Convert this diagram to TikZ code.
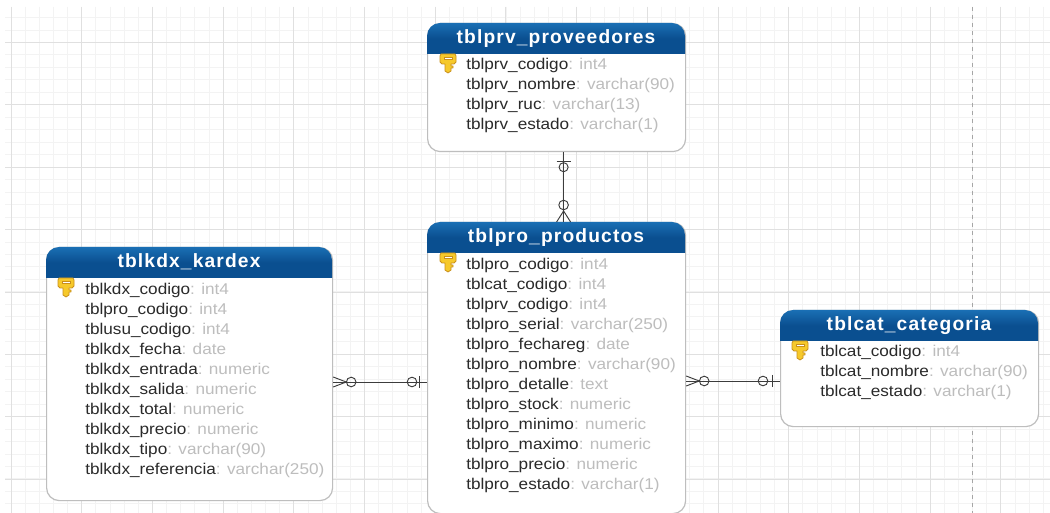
\documentclass[tikz,border=0pt]{standalone}
\usepackage{fontspec}
\setmainfont{Liberation Sans}
\newfontfamily\hdrfont[LetterSpace=6]{Liberation Sans}
\newfontfamily\rowfont[FakeStretch=1.1]{Liberation Sans}
\usetikzlibrary{calc}
\definecolor{hdrtop}{HTML}{1A6FB4}
\definecolor{hdrbot}{HTML}{0A4F90}
\definecolor{edgegray}{HTML}{BEBEBE}
\definecolor{typegray}{HTML}{BDBDBD}
\definecolor{namecol}{HTML}{2A2A2A}
\definecolor{keyfill}{HTML}{F6C92B}
\definecolor{keyedge}{HTML}{C98F1C}
\definecolor{gridmin}{HTML}{F3F3F3}
\definecolor{gridmaj}{HTML}{E0E0E0}
\definecolor{linecol}{HTML}{3C3C3C}
\tikzset{
  x=0.75pt,y=-0.75pt,
  tablebody/.style={draw=edgegray,line width=0.9pt,fill=white,rounded corners=9.5pt,inner sep=0pt,anchor=north west},
  tabletitle/.style={text=white,font=\hdrfont\bfseries\fontsize{14.4}{16}\selectfont,inner sep=0pt,anchor=base},
  rowtext/.style={anchor=base west,inner sep=0pt,font=\rowfont\fontsize{11.7}{14}\selectfont,text=namecol},
  conn/.style={draw=linecol,line width=0.7pt},
  mincirc/.style={draw=linecol,line width=0.7pt},
}
% #1 name, #2 x, #3 y, #4 width px, #5 height px, #6 title
\newcommand{\tablebox}[6]{%
  \node[tablebody,minimum width=#4*0.75pt,minimum height=#5*0.75pt] (#1) at (#2,#3) {};
  \shade[top color=hdrtop,bottom color=hdrbot,middle color=hdrbot]
    (#2,#3+31) -- (#2,#3+13) arc[start angle=180,end angle=90,radius=9.75pt] -- (#2+#4-13,#3)
    arc[start angle=90,end angle=0,radius=9.75pt] -- (#2+#4,#3+31) -- cycle;
  \node[tabletitle] (#1title) at (#2+#4/2,#3+21) {#6};
}
\newcommand{\rowitem}[5]{%
  \node[rowtext] (#1) at (#2,#3+1.5) {#4\textcolor{typegray}{: #5}};
}
\newcommand{\keyicon}[2]{%
  \begin{scope}[shift={(#1,#2)}]
    \fill[keyfill,draw=keyedge,line width=0.6pt,line join=round]
      (-7,-9) -- (7,-9) -- (8,-7) -- (8,-1) -- (6,1) -- (3,1) -- (3,3) -- (5,3) -- (5,5) -- (3,5) -- (3,8) -- (0,10) -- (-3,8) -- (-3,1) -- (-6,1) -- (-8,-1) -- (-8,-7) -- cycle;
    \fill[white,draw=keyedge,line width=0.4pt] (-4,-6) rectangle (4,-4);
  \end{scope}
}
\begin{document}
\begin{tikzpicture}
\useasboundingbox (0,0) rectangle (1050,513);
\fill[white] (0,0) rectangle (1050,513);
% grid
\begin{scope}
  \clip (5,7) rectangle (1050,513);
  \foreach \i in {0,...,75} { \draw[gridmin,line width=0.6pt] ({11+14.14*\i},7) -- ({11+14.14*\i},513); }
  \foreach \i in {0,...,41} { \draw[gridmin,line width=0.6pt] (5,{5+12.47*\i}) -- (1050,{5+12.47*\i}); }
  \foreach \i in {0,...,14} { \draw[gridmaj,line width=0.7pt] ({11+70.7*\i},7) -- ({11+70.7*\i},513); }
  \foreach \i in {0,...,8} { \draw[gridmaj,line width=0.7pt] (5,{42.6+62.35*\i}) -- (1050,{42.6+62.35*\i}); }
  \draw[gray!70,line width=0.6pt,dashed] (972,7) -- (972,513);
\end{scope}
% tables
\tablebox{prv}{427}{23}{258}{128}{tblprv\_proveedores}
\tablebox{pro}{427}{222}{258}{291}{tblpro\_productos}
\tablebox{kdx}{46}{247}{286}{253}{tblkdx\_kardex}
\tablebox{cat}{780}{310}{258}{116}{tblcat\_categoria}
% keys
\keyicon{448}{63}
\keyicon{448}{262}
\keyicon{66}{287}
\keyicon{800}{350}
% rows
\rowitem{prva}{466}{68}{tblprv\_codigo}{int4}
\rowitem{prvb}{466}{88}{tblprv\_nombre}{varchar(90)}
\rowitem{prvc}{466}{108}{tblprv\_ruc}{varchar(13)}
\rowitem{prvd}{466}{128}{tblprv\_estado}{varchar(1)}
\rowitem{proa}{466}{268}{tblpro\_codigo}{int4}
\rowitem{prob}{466}{288}{tblcat\_codigo}{int4}
\rowitem{proc}{466}{308}{tblprv\_codigo}{int4}
\rowitem{prod}{466}{328}{tblpro\_serial}{varchar(250)}
\rowitem{proe}{466}{348}{tblpro\_fechareg}{date}
\rowitem{prof}{466}{368}{tblpro\_nombre}{varchar(90)}
\rowitem{prog}{466}{388}{tblpro\_detalle}{text}
\rowitem{proh}{466}{408}{tblpro\_stock}{numeric}
\rowitem{proi}{466}{428}{tblpro\_minimo}{numeric}
\rowitem{proj}{466}{448}{tblpro\_maximo}{numeric}
\rowitem{prok}{466}{468}{tblpro\_precio}{numeric}
\rowitem{prol}{466}{488}{tblpro\_estado}{varchar(1)}
\rowitem{kdxa}{85}{293}{tblkdx\_codigo}{int4}
\rowitem{kdxb}{85}{313}{tblpro\_codigo}{int4}
\rowitem{kdxc}{85}{333}{tblusu\_codigo}{int4}
\rowitem{kdxd}{85}{353}{tblkdx\_fecha}{date}
\rowitem{kdxe}{85}{373}{tblkdx\_entrada}{numeric}
\rowitem{kdxf}{85}{393}{tblkdx\_salida}{numeric}
\rowitem{kdxg}{85}{413}{tblkdx\_total}{numeric}
\rowitem{kdxh}{85}{433}{tblkdx\_precio}{numeric}
\rowitem{kdxi}{85}{453}{tblkdx\_tipo}{varchar(90)}
\rowitem{kdxj}{85}{473}{tblkdx\_referencia}{varchar(250)}
\rowitem{cata}{820}{355}{tblcat\_codigo}{int4}
\rowitem{catb}{820}{375}{tblcat\_nombre}{varchar(90)}
\rowitem{catc}{820}{395}{tblcat\_estado}{varchar(1)}
% connectors
\coordinate (p1) at ($(prv.south)+(7,0)$);
\coordinate (p2) at ($(pro.north)+(7,0)$);
\draw[conn] (p1) -- (p2);
\draw[conn] ($(p1)+(-7,9)$) -- ($(p1)+(7,9)$);
\draw[mincirc] ($(p1)+(0,15)$) circle[radius=3.4pt];
\draw[mincirc] ($(p2)+(0,-17)$) circle[radius=3.6pt];
\draw[conn] ($(p2)+(-7,0)$) -- ($(p2)+(0,-11)$) -- ($(p2)+(7,0)$);
%
\coordinate (k1) at (kdx.east |- 0,382);
\coordinate (k2) at (pro.west |- 0,382);
\draw[conn] (k1) -- (k2);
\draw[conn] ($(k1)+(0,-5)$) -- ($(k1)+(13,0)$) -- ($(k1)+(0,5)$);
\draw[mincirc] ($(k1)+(18,0)$) circle[radius=3.6pt];
\draw[mincirc] ($(k2)+(-15,0)$) circle[radius=3.6pt];
\draw[conn] ($(k2)+(-8,-6)$) -- ($(k2)+(-8,6)$);
%
\coordinate (c1) at (pro.east |- 0,381);
\coordinate (c2) at (cat.west |- 0,381);
\draw[conn] (c1) -- (c2);
\draw[conn] ($(c1)+(0,-5)$) -- ($(c1)+(13,0)$) -- ($(c1)+(0,5)$);
\draw[mincirc] ($(c1)+(18,0)$) circle[radius=3.6pt];
\draw[mincirc] ($(c2)+(-17,0)$) circle[radius=3.6pt];
\draw[conn] ($(c2)+(-8,-6)$) -- ($(c2)+(-8,6)$);
\end{tikzpicture}
\end{document}
